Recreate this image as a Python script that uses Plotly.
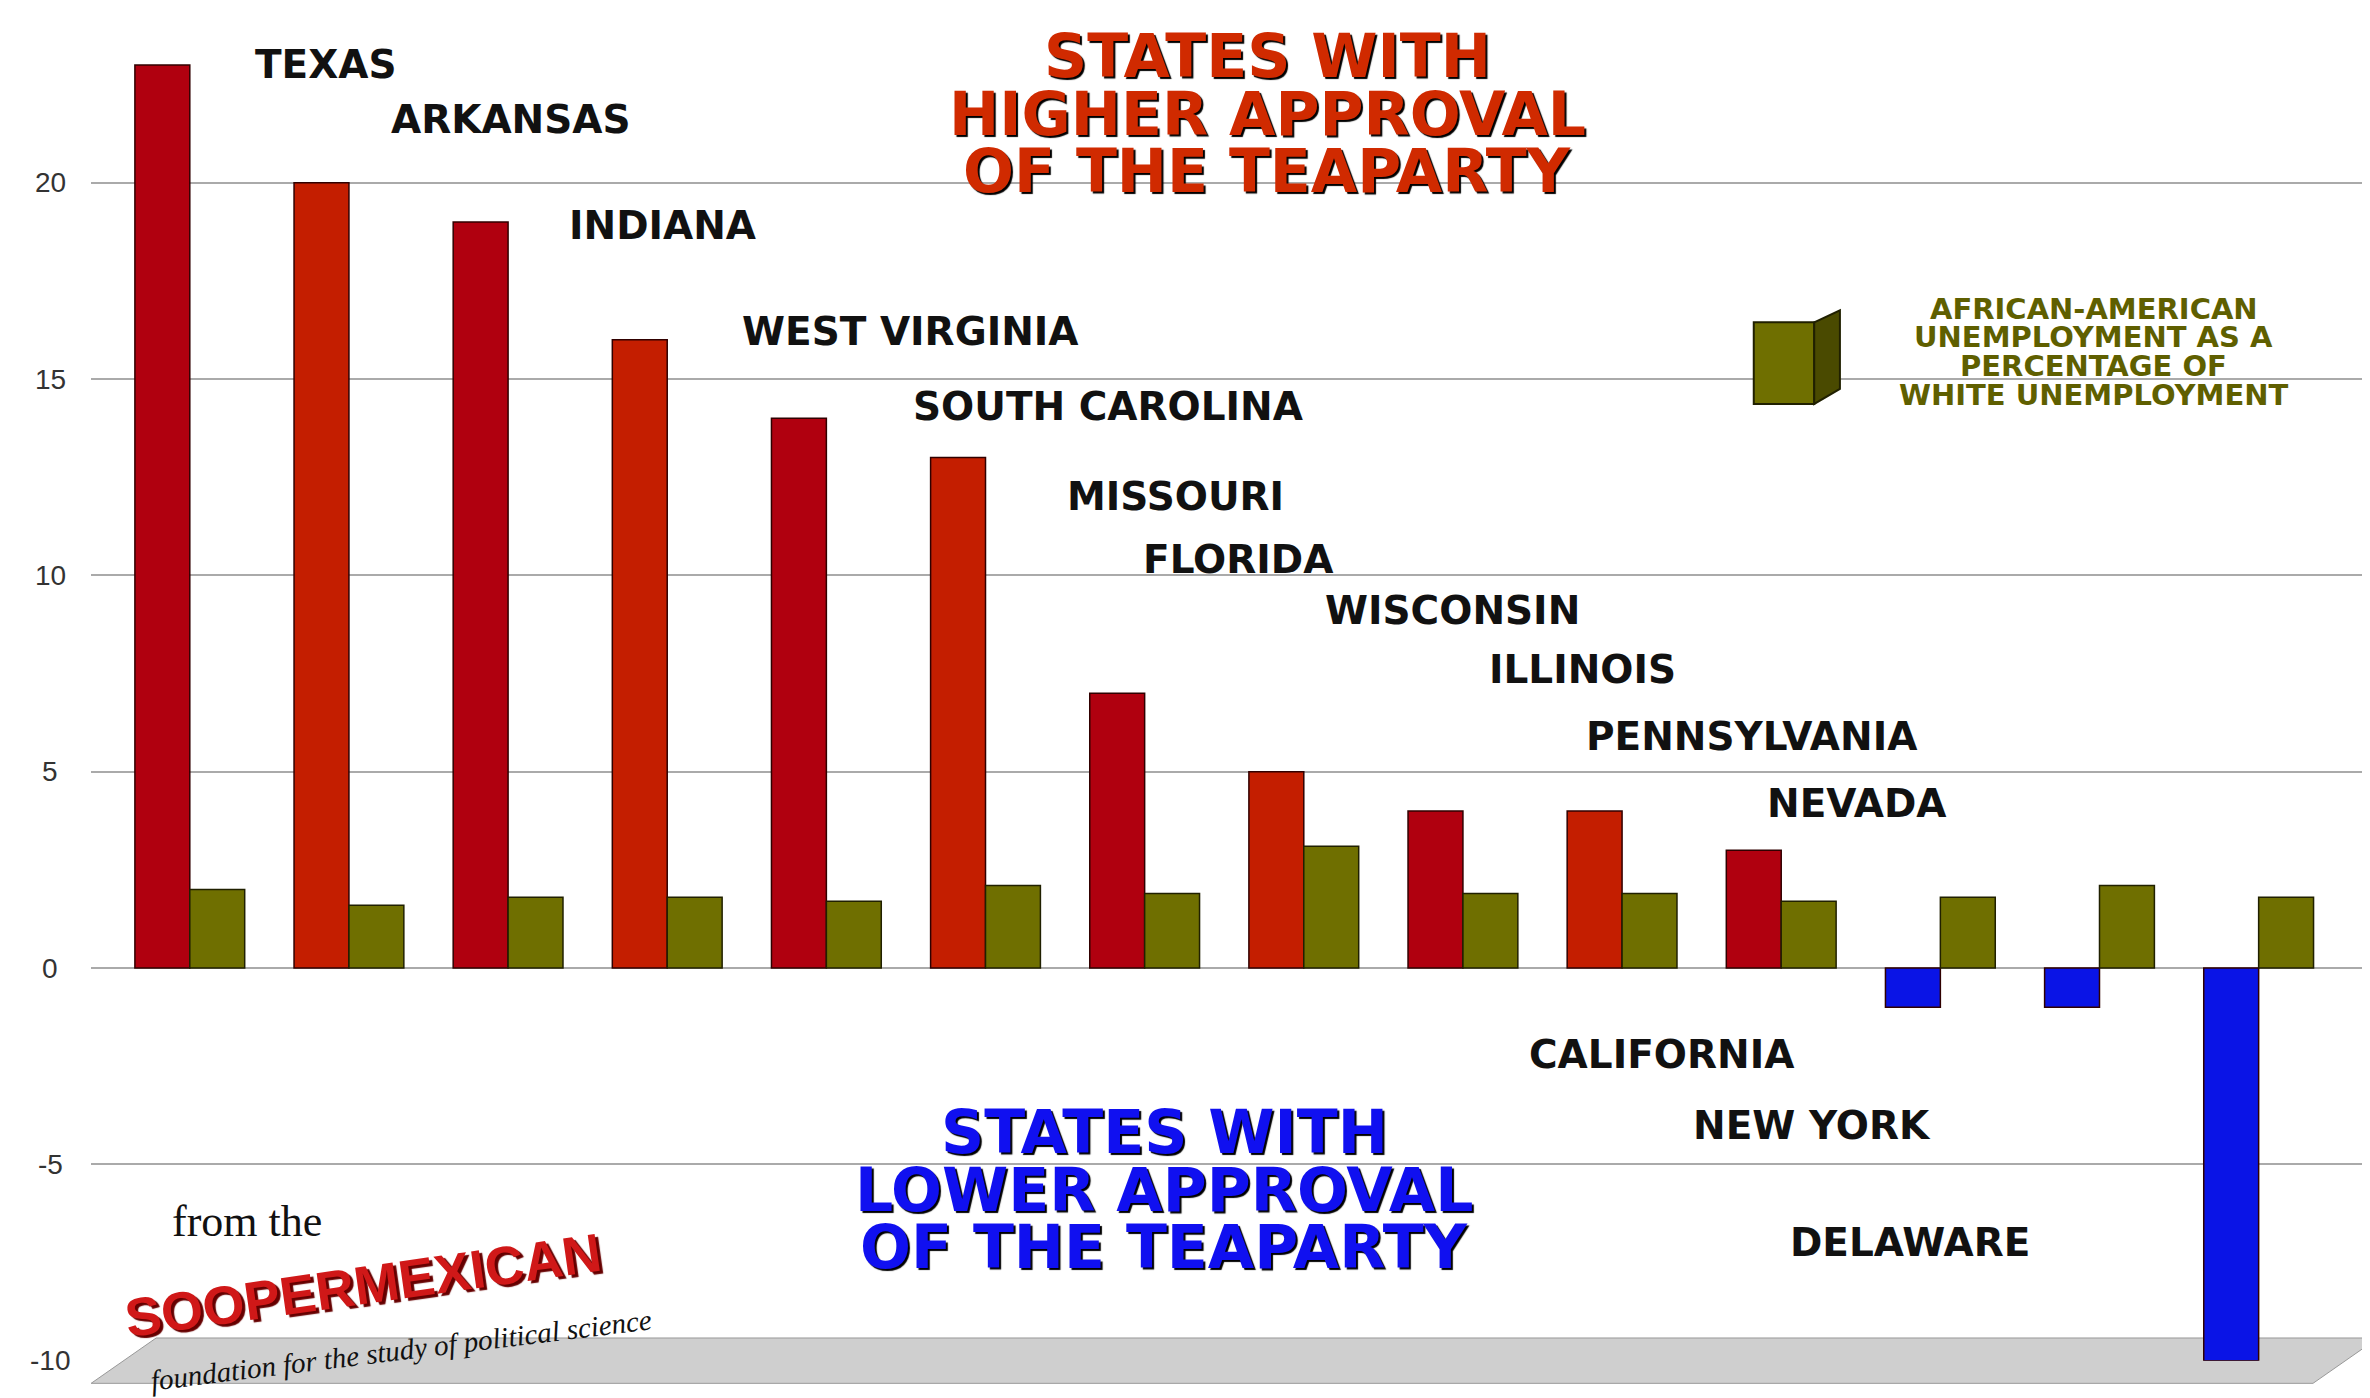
import plotly.graph_objects as go

states = ["TEXAS","ARKANSAS","INDIANA","WEST VIRGINIA","SOUTH CAROLINA","MISSOURI","FLORIDA",
          "WISCONSIN","ILLINOIS","PENNSYLVANIA","NEVADA","CALIFORNIA","NEW YORK","DELAWARE"]
approval = [23, 20, 19, 16, 14, 13, 7, 5, 4, 4, 3, -1, -1, -10]
ratio = [2.0, 1.6, 1.8, 1.8, 1.7, 2.1, 1.9, 3.1, 1.9, 1.9, 1.7, 1.8, 2.1, 1.8]
yticks = [-10, -5, 0, 5, 10, 15, 20]
lab_x = [0.40, 1.25, 2.37, 3.46, 4.53, 5.50, 5.98, 7.12, 8.15, 8.76, 9.90, 8.40, 9.43, 10.04]
lab_y = [23.0, 21.6, 18.9, 16.2, 14.3, 12.0, 10.4, 9.1, 7.6, 5.9, 4.2, -2.2, -4.0, -7.0]
red_title = ["STATES WITH", "HIGHER APPROVAL", "OF THE TEAPARTY"]
blue_title = ["STATES WITH", "LOWER APPROVAL", "OF THE TEAPARTY"]
legend_lines = ["AFRICAN-AMERICAN", "UNEMPLOYMENT AS A", "PERCENTAGE OF", "WHITE UNEMPLOYMENT"]

xs = list(range(len(states)))
reds = []
for i, v in enumerate(approval):
    if v < 0:
        reds.append("#0A14E6")
    else:
        reds.append("#B0000F" if i % 2 == 0 else "#C41E00")

fig = go.Figure()
fig.add_bar(x=xs, y=approval, marker=dict(color=reds, line=dict(color="#300000", width=1.5)),
            name="Tea Party approval", showlegend=False)
fig.add_bar(x=xs, y=ratio, marker=dict(color="#6F6F00", line=dict(color="#202000", width=1.5)),
            name="AA/White unemployment", showlegend=False)

W, H = 1568, 925
def px(x): return x / W
def py(y): return 1 - y / H

ann = []
for s, x, y in zip(states, lab_x, lab_y):
    ann.append(dict(x=x, y=y, xref="x", yref="y", text=s, showarrow=False, xanchor="left",
                    yanchor="middle", font=dict(family="DejaVu Sans", size=39, color="#111", weight="bold")))
for i, t in enumerate(red_title):
    ann.append(dict(x=px(833), y=py(32 + 38 * i), xref="paper", yref="paper", showarrow=False,
                    text=t, xanchor="center", yanchor="middle",
                    font=dict(family="DejaVu Sans", size=60, color="#D02A00", weight="bold",
                              shadow="2px 2px 1px #000")))
for i, t in enumerate(blue_title):
    ann.append(dict(x=px(765), y=py(744 + 38 * i), xref="paper", yref="paper", showarrow=False,
                    text=t, xanchor="center", yanchor="middle",
                    font=dict(family="DejaVu Sans", size=60, color="#1010F0", weight="bold",
                              shadow="2px 2px 1px #000")))
for i, t in enumerate(legend_lines):
    ann.append(dict(x=px(1380), y=py(199 + 19 * i), xref="paper", yref="paper", showarrow=False,
                    text=t, xanchor="center", yanchor="middle",
                    font=dict(family="DejaVu Sans", size=29, color="#5F5F00", weight="bold")))
ann.append(dict(x=px(158), y=py(803), xref="paper", yref="paper", showarrow=False,
                xanchor="center", yanchor="middle",
                text="from the", font=dict(family="Liberation Serif", size=44, color="#111")))
ann.append(dict(x=px(235), y=py(845), xref="paper", yref="paper", showarrow=False,
                xanchor="center", yanchor="middle", text="SOOPERMEXICAN", textangle=-8,
                font=dict(family="Liberation Sans", size=54, color="#D01818", weight="bold",
                          shadow="3px 3px 1px #600")))
ann.append(dict(x=px(260), y=py(888), xref="paper", yref="paper", showarrow=False,
                xanchor="center", yanchor="middle",
                text="<i>foundation for the study of political science</i>", textangle=-7,
                font=dict(family="Liberation Serif", size=29, color="#111")))
for t in yticks:
    ann.append(dict(x=px(28), y=t, xref="paper", yref="y", text=str(t), showarrow=False,
                    xanchor="center", yanchor="middle",
                    font=dict(family="Liberation Sans", size=28, color="#333")))

shapes = [
    dict(type="rect", xref="paper", yref="paper", x0=px(1155), x1=px(1195),
         y0=py(262), y1=py(208), fillcolor="#6F6F00", line=dict(color="#202000", width=2)),
    dict(type="path", xref="paper", yref="paper",
         path=f"M {px(1195)},{py(208)} L {px(1212)},{py(200)} L {px(1212)},{py(252)} L {px(1195)},{py(262)} Z",
         fillcolor="#4A4A00", line=dict(color="#202000", width=2)),
    dict(type="path", xref="paper", yref="paper",
         path=f"M {px(55)},{py(910)} L {px(1525)},{py(910)} L {px(1568)},{py(880)} L {px(98)},{py(880)} Z",
         fillcolor="#CFCFCF", line=dict(color="#999", width=1), layer="below"),
]

fig.update_layout(
    width=2370, height=1398, paper_bgcolor="white", plot_bgcolor="white",
    margin=dict(l=0, r=0, t=0, b=0),
    barmode="group", bargap=0.31, bargroupgap=0,
    xaxis=dict(domain=[px(55), 1], range=[-0.62, 13.75], showticklabels=False,
               showgrid=False, zeroline=False),
    yaxis=dict(domain=[py(895), 1], range=[-10, 24.45], tickvals=yticks, showticklabels=False,
               showgrid=True, gridcolor="#AAAAAA", gridwidth=2, zeroline=True,
               zerolinecolor="#AAAAAA", zerolinewidth=2),
    annotations=ann, shapes=shapes,
)
fig.write_html("out.html")
